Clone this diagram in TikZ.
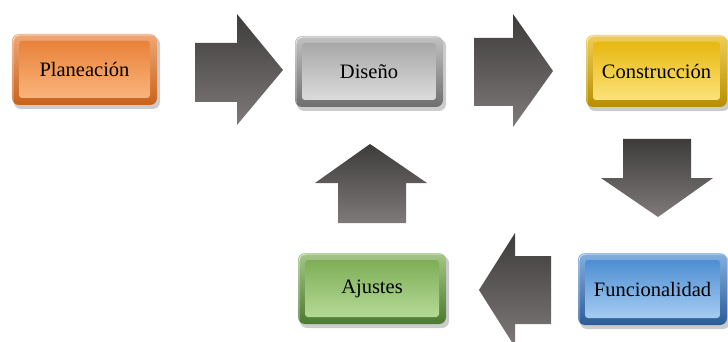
\documentclass[tikz,border=0pt]{standalone}
\usepackage{fontspec}
\setmainfont{Liberation Serif}
\definecolor{arrT}{HTML}{3E3B3B}
\definecolor{arrB}{HTML}{7E7A7A}
\definecolor{orE}{HTML}{C8621C}\definecolor{orT}{HTML}{E9823A}\definecolor{orB}{HTML}{FAB47C}
\definecolor{grE}{HTML}{6E6E6E}\definecolor{grT}{HTML}{A8A8A8}\definecolor{grB}{HTML}{DCDCDC}
\definecolor{yeE}{HTML}{B88E00}\definecolor{yeT}{HTML}{E8B810}\definecolor{yeB}{HTML}{FCE27A}
\definecolor{gnE}{HTML}{4C7A30}\definecolor{gnT}{HTML}{7EAE56}\definecolor{gnB}{HTML}{B4DA96}
\definecolor{blE}{HTML}{2C5C98}\definecolor{blT}{HTML}{4E8ED2}\definecolor{blB}{HTML}{A6CCF2}
\tikzset{
  txt/.style={font=\fontsize{20.5}{23}\selectfont, text=black, inner sep=0pt},
  blockarrow/.style={top color=arrT, bottom color=arrB, draw=none},
}
\newcommand{\gbox}[7]{%
  \fill[black!20, rounded corners=7pt] (#2+2,#3+3) rectangle (#4+3,#5+4);
  \shade[rounded corners=7pt, top color=#6T!70!white, bottom color=#6E] (#2,#3) rectangle (#4,#5);
  \shade[rounded corners=3pt, top color=#6T, bottom color=#6B] (#2+7,#3+7) rectangle (#4-7,#5-7);
  \draw[white, opacity=0.7, line width=0.8pt, rounded corners=7pt] (#2+1,#5-3) -- (#2+1,#3+1) -- (#4-1,#3+1);
  \node[txt] (#1) at ({(#2+#4)/2},{(#3+#5)/2}) {#7};
}
\begin{document}
\begin{tikzpicture}[x=1pt,y=-1pt]
\useasboundingbox (0,0) rectangle (728,342);
\clip (0,0) rectangle (728,342);
% boxes
\gbox{plan}{12}{34}{157}{105}{or}{Planeación}
\gbox{dis}{295}{36}{443}{107}{gr}{Diseño}
\gbox{cons}{586}{35}{727}{107}{ye}{Construcción}
\gbox{ajus}{298}{253}{446}{324}{gn}{Ajustes}
\gbox{func}{578}{253}{727}{325}{bl}{Funcionalidad}
% block arrows
\shade[blockarrow] (195,43) -- (237,43) -- (237,14) -- (283,70) -- (237,125) -- (237,102) -- (195,102) -- cycle;
\shade[blockarrow] (474,38) -- (513,38) -- (513,14) -- (553,71) -- (513,127) -- (513,106) -- (474,106) -- cycle;
\shade[blockarrow] (623,139) -- (691,139) -- (691,178) -- (713,178) -- (658,217) -- (601,178) -- (623,178) -- cycle;
\shade[blockarrow] (551,256) -- (515,256) -- (515,233) -- (479,290) -- (515,347) -- (515,324) -- (551,324) -- cycle;
\shade[blockarrow] (338,223) -- (338,183) -- (315,183) -- (370,144) -- (427,183) -- (406,183) -- (406,223) -- cycle;
\end{tikzpicture}
\end{document}
